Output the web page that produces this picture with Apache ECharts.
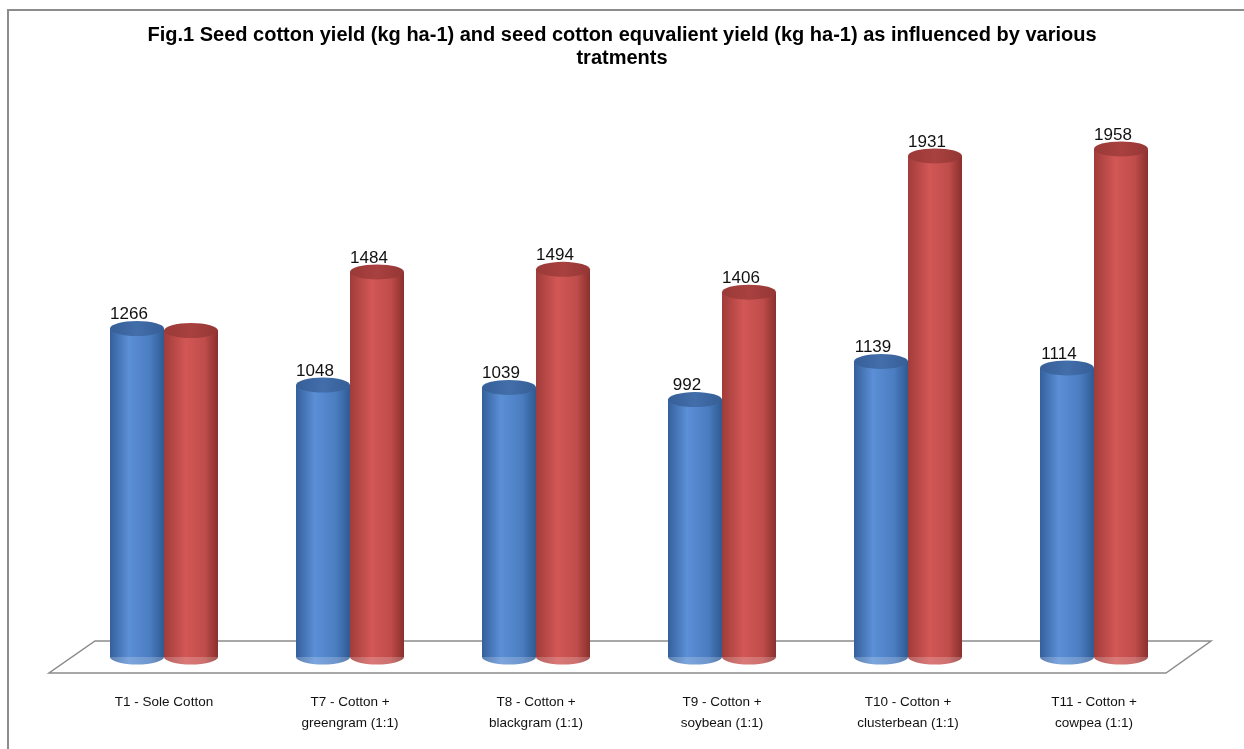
<!DOCTYPE html>
<html>
<head>
<meta charset="utf-8">
<script src="https://cdn.jsdelivr.net/npm/echarts@6/dist/echarts.min.js"></script>
<style>html,body{margin:0;padding:0;background:#fff;}#c{width:1244px;height:749px;}</style>
</head>
<body>
<div id="c"></div>
<script>
const categories = ['T1 - Sole Cotton', 'T7 - Cotton +\ngreengram (1:1)', 'T8 - Cotton +\nblackgram (1:1)', 'T9 - Cotton +\nsoybean (1:1)', 'T10 - Cotton +\nclusterbean (1:1)', 'T11 - Cotton +\ncowpea (1:1)'];
const seedCottonYield = [1266, 1048, 1039, 992, 1139, 1114];
const equivalentYield = [1258, 1484, 1494, 1406, 1931, 1958];
const equivalentLabelShown = [false, true, true, true, true, true];

const chart = echarts.init(document.getElementById('c'), null, {renderer: 'canvas'});
const G = echarts.graphic.LinearGradient;
const blueBody = new G(0, 0, 1, 0, [
  {offset: 0, color: '#34609c'}, {offset: 0.35, color: '#5b8fd6'}, {offset: 0.75, color: '#4a7cc0'}, {offset: 1, color: '#2f5a92'}]);
const redBody = new G(0, 0, 1, 0, [
  {offset: 0, color: '#a03c3a'}, {offset: 0.4, color: '#d25755'}, {offset: 0.75, color: '#c04d4b'}, {offset: 1, color: '#8a302e'}]);
const blueTop = new G(0, 0, 1, 0, [{offset: 0, color: '#375f98'}, {offset: 0.5, color: '#426eaa'}, {offset: 1, color: '#365e96'}]);
const redTop = new G(0, 0, 1, 0, [{offset: 0, color: '#9a3a38'}, {offset: 0.5, color: '#a8413f'}, {offset: 1, color: '#943735'}]);

const BW = 54, EH = 15;
const labelStyle = {show: true, position: 'top', distance: 0, offset: [-8, 2], color: '#111', fontSize: 17, fontFamily: 'Liberation Sans, Arial, sans-serif'};

chart.setOption({
  animation: false,
  backgroundColor: '#fff',
  title: {
    text: 'Fig.1 Seed cotton yield (kg ha-1) and seed cotton equvalient yield (kg ha-1) as influenced by various\ntratments',
    left: 'center', top: 24, padding: 0,
    textStyle: {fontSize: 20, fontWeight: 'bold', lineHeight: 23, color: '#000', fontFamily: 'Liberation Sans, Arial, sans-serif', align: 'center'}
  },
  graphic: [
    {type: 'polyline', shape: {points: [[8, 749], [8, 10], [1244, 10]]}, style: {stroke: '#8c8c8c', lineWidth: 2, fill: null}, z: 0},
    {type: 'polygon', shape: {points: [[95, 641], [1211, 641], [1166, 673], [49, 673]]}, style: {stroke: '#8c8c8c', lineWidth: 1.5, fill: '#fff'}, z: 0}
  ],
  grid: {left: 71, right: 57, top: 138, bottom: 92},
  xAxis: {
    type: 'category', data: categories,
    axisLine: {show: false}, axisTick: {show: false}, splitLine: {show: false},
    axisLabel: {margin: 35, fontSize: 13.5, lineHeight: 21, color: '#111', fontFamily: 'Liberation Sans, Arial, sans-serif', interval: 0}
  },
  yAxis: {type: 'value', min: 0, max: 2000, show: false, splitLine: {show: false}},
  series: [
    {type: 'scatter', data: seedCottonYield.map(() => 0), symbol: 'circle', symbolSize: [BW, EH], symbolOffset: [-BW / 2, 0], itemStyle: {color: blueBody}, z: 2, silent: true},
    {type: 'scatter', data: equivalentYield.map(() => 0), symbol: 'circle', symbolSize: [BW, EH], symbolOffset: [BW / 2, 0], itemStyle: {color: redBody}, z: 2, silent: true},
    {type: 'bar', data: seedCottonYield, barWidth: BW, barGap: '0%', itemStyle: {color: blueBody}, z: 3},
    {type: 'bar', data: equivalentYield, barWidth: BW, barGap: '0%', itemStyle: {color: redBody}, z: 3},
    {type: 'scatter', data: seedCottonYield, symbol: 'circle', symbolSize: [BW, EH], symbolOffset: [-BW / 2, 0], itemStyle: {color: blueTop, opacity: 1}, z: 4, label: labelStyle},
    {type: 'scatter', data: equivalentYield.map((v, i) => ({value: v, label: {show: equivalentLabelShown[i]}})), symbol: 'circle', symbolSize: [BW, EH], symbolOffset: [BW / 2, 0], itemStyle: {color: redTop, opacity: 1}, z: 4, label: labelStyle}
  ]
});
</script>
</body>
</html>
